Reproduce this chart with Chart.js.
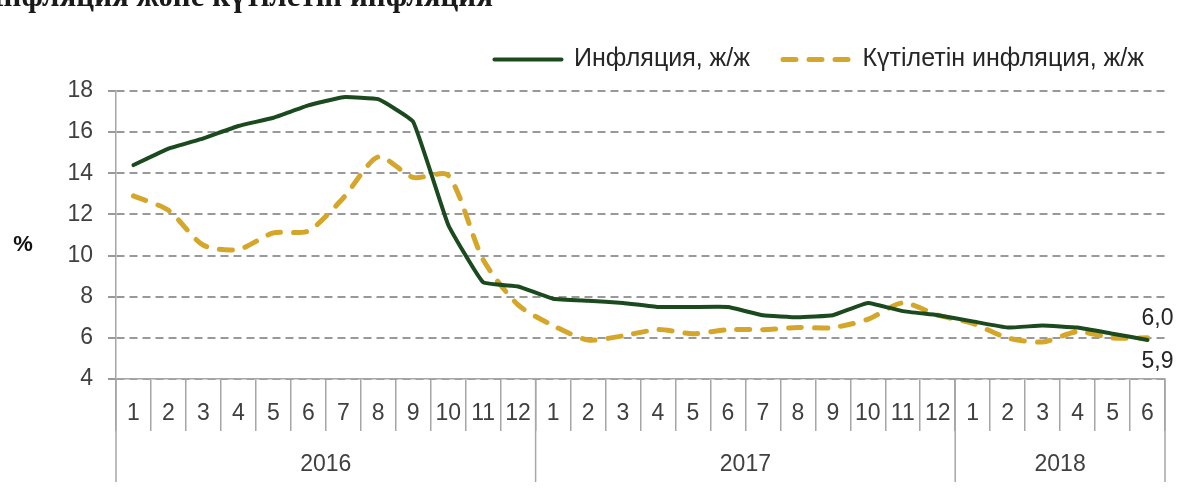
<!DOCTYPE html>
<html>
<head>
<meta charset="utf-8">
<script src="https://cdn.jsdelivr.net/npm/chart.js@4/dist/chart.umd.min.js"></script>
<style>
  html, body { margin: 0; padding: 0; background: #fff; }
  #wrap { position: relative; width: 1188px; height: 498px; }
</style>
</head>
<body>
<div id="wrap"><canvas id="inflChart" width="1188" height="498"></canvas></div>
<script>
// values
var months = ['1','2','3','4','5','6','7','8','9','10','11','12',
              '1','2','3','4','5','6','7','8','9','10','11','12',
              '1','2','3','4','5','6'];
var years = ['2016', '2017', '2018'];
var yearSpans = [12, 12, 6];
var inflation = [14.4, 15.2, 15.7, 16.3, 16.7, 17.3, 17.7, 17.6, 16.5, 11.5, 8.7, 8.5,
                 7.9, 7.8, 7.7, 7.5, 7.5, 7.5, 7.1, 7.0, 7.1, 7.7, 7.3, 7.1,
                 6.8, 6.5, 6.6, 6.5, 6.2, 5.9];
var expectedInfl = [12.9, 12.2, 10.5, 10.3, 11.1, 11.2, 12.8, 14.8, 13.8, 13.9, 9.8, 7.6,
                    6.6, 5.9, 6.1, 6.4, 6.2, 6.4, 6.4, 6.5, 6.5, 6.9, 7.7, 7.1,
                    6.7, 6.0, 5.8, 6.3, 6.0, 6.0];
var yTicks = [4, 6, 8, 10, 12, 14, 16, 18];
var seriesNames = ['Инфляция, ж/ж', 'Күтілетін инфляция, ж/ж'];
var chartTitle = 'Инфляция және күтілетін инфляция';
var unitLabel = '%';

var FONT = '"Liberation Sans", Arial, sans-serif';
var TXT = '#404040';

var extras = {
  id: 'extras',
  beforeInit: function(chart) {
    var lg = chart.legend;
    // fixed legend height so the plot top lands where it should
    var fit = lg.fit;
    lg.fit = function() {
      fit.call(this);
      this.height = 77;
    };
    // nudge legend a bit to the right, like the original
    var draw = lg.draw;
    lg.draw = function() {
      chart.ctx.save();
      chart.ctx.translate(12, 0);
      draw.call(this);
      chart.ctx.restore();
    };
  },
  afterDraw: function(chart) {
    var ctx = chart.ctx;
    var xs = chart.scales.x;
    var area = chart.chartArea;
    ctx.save();

    // title, cut off at the top edge like in the original
    ctx.font = 'bold 31px "Liberation Serif", serif';
    ctx.fillStyle = '#1a1a1a';
    ctx.textAlign = 'right';
    ctx.textBaseline = 'alphabetic';
    ctx.fillText(chartTitle, 493, 6);

    // unit label
    ctx.font = 'bold 22px ' + FONT;
    ctx.fillStyle = '#111';
    ctx.textAlign = 'center';
    ctx.textBaseline = 'middle';
    ctx.fillText(unitLabel, 23, 245);

    // year row
    var half = (xs.getPixelForValue(1) - xs.getPixelForValue(0)) / 2;
    ctx.strokeStyle = '#a6a6a6';
    ctx.lineWidth = 1.5;
    ctx.font = '23px ' + FONT;
    ctx.fillStyle = TXT;
    var start = 0;
    for (var i = 0; i < years.length; i++) {
      var end = start + yearSpans[i] - 1;
      var left = xs.getPixelForValue(start) - half;
      var right = xs.getPixelForValue(end) + half;
      ctx.beginPath();
      ctx.moveTo(left, area.bottom);
      ctx.lineTo(left, 482);
      if (i === years.length - 1) {
        ctx.moveTo(right, area.bottom);
        ctx.lineTo(right, 482);
      }
      ctx.stroke();
      ctx.fillText(years[i], (left + right) / 2, 465);
      start = end + 1;
    }

    // end values
    var last = months.length - 1;
    var pInf = chart.getDatasetMeta(0).data[last];
    var pExp = chart.getDatasetMeta(1).data[last];
    ctx.font = '23px ' + FONT;
    ctx.fillStyle = '#262626';
    ctx.fillText(expectedInfl[last].toFixed(1).replace('.', ','), pExp.x + 10, pExp.y - 19);
    ctx.fillText(inflation[last].toFixed(1).replace('.', ','), pInf.x + 10, pInf.y + 22);
    ctx.restore();
  }
};

var chart = new Chart(document.getElementById('inflChart'), {
  type: 'line',
  data: {
    labels: months,
    datasets: [{
      label: seriesNames[0],
      data: inflation,
      borderColor: '#1b4a1e',
      backgroundColor: '#1b4a1e',
      borderWidth: 4,
      pointRadius: 0,
      tension: 0.1,
      borderCapStyle: 'round',
      borderJoinStyle: 'round',
      fill: false
    }, {
      label: seriesNames[1],
      data: expectedInfl,
      borderColor: '#d4a62a',
      backgroundColor: '#d4a62a',
      borderWidth: 5,
      borderDash: [13, 13],
      borderCapStyle: 'round',
      pointRadius: 0,
      tension: 0.25,
      fill: false
    }]
  },
  options: {
    responsive: false,
    animation: false,
    devicePixelRatio: 1,
    layout: { padding: { top: 14, right: 23, left: 0, bottom: 0 } },
    plugins: {
      title: { display: false },
      tooltip: { enabled: false },
      legend: {
        position: 'top',
        align: 'end',
        labels: {
          usePointStyle: true,
          pointStyle: 'line',
          pointStyleWidth: 67,
          padding: 33,
          color: '#262626',
          font: { family: FONT, size: 25 },
          generateLabels: function(chart) {
            var items = Chart.defaults.plugins.legend.labels.generateLabels(chart);
            items.forEach(function(it) {
              var ds = chart.data.datasets[it.datasetIndex];
              it.lineDash = ds.borderDash || [];
              it.lineCap = ds.borderCapStyle || 'butt';
              it.lineWidth = ds.borderWidth;
            });
            return items;
          }
        }
      }
    },
    scales: {
      x: {
        offset: true,
        grid: { drawOnChartArea: false, drawTicks: true, tickLength: 52, offset: true,
                color: '#a6a6a6', lineWidth: 1.5 },
        border: { color: '#a6a6a6', width: 1.5 },
        ticks: { padding: -31, autoSkip: false, maxRotation: 0, color: TXT,
                 font: { family: FONT, size: 23 } },
        afterFit: function(s) { s.height = 119; }
      },
      y: {
        min: 4,
        max: 18,
        afterBuildTicks: function(s) { s.ticks = yTicks.map(function(v) { return { value: v }; }); },
        grid: { color: '#999999', lineWidth: 2, drawTicks: true, tickLength: 8, tickColor: '#999999' },
        border: { display: true, color: '#a6a6a6', width: 1.5, dash: [8, 5] },
        ticks: { padding: 15, color: TXT, font: { family: FONT, size: 23 } },
        afterFit: function(s) { s.width = 116; }
      }
    }
  },
  plugins: [extras]
});
</script>
</body>
</html>
